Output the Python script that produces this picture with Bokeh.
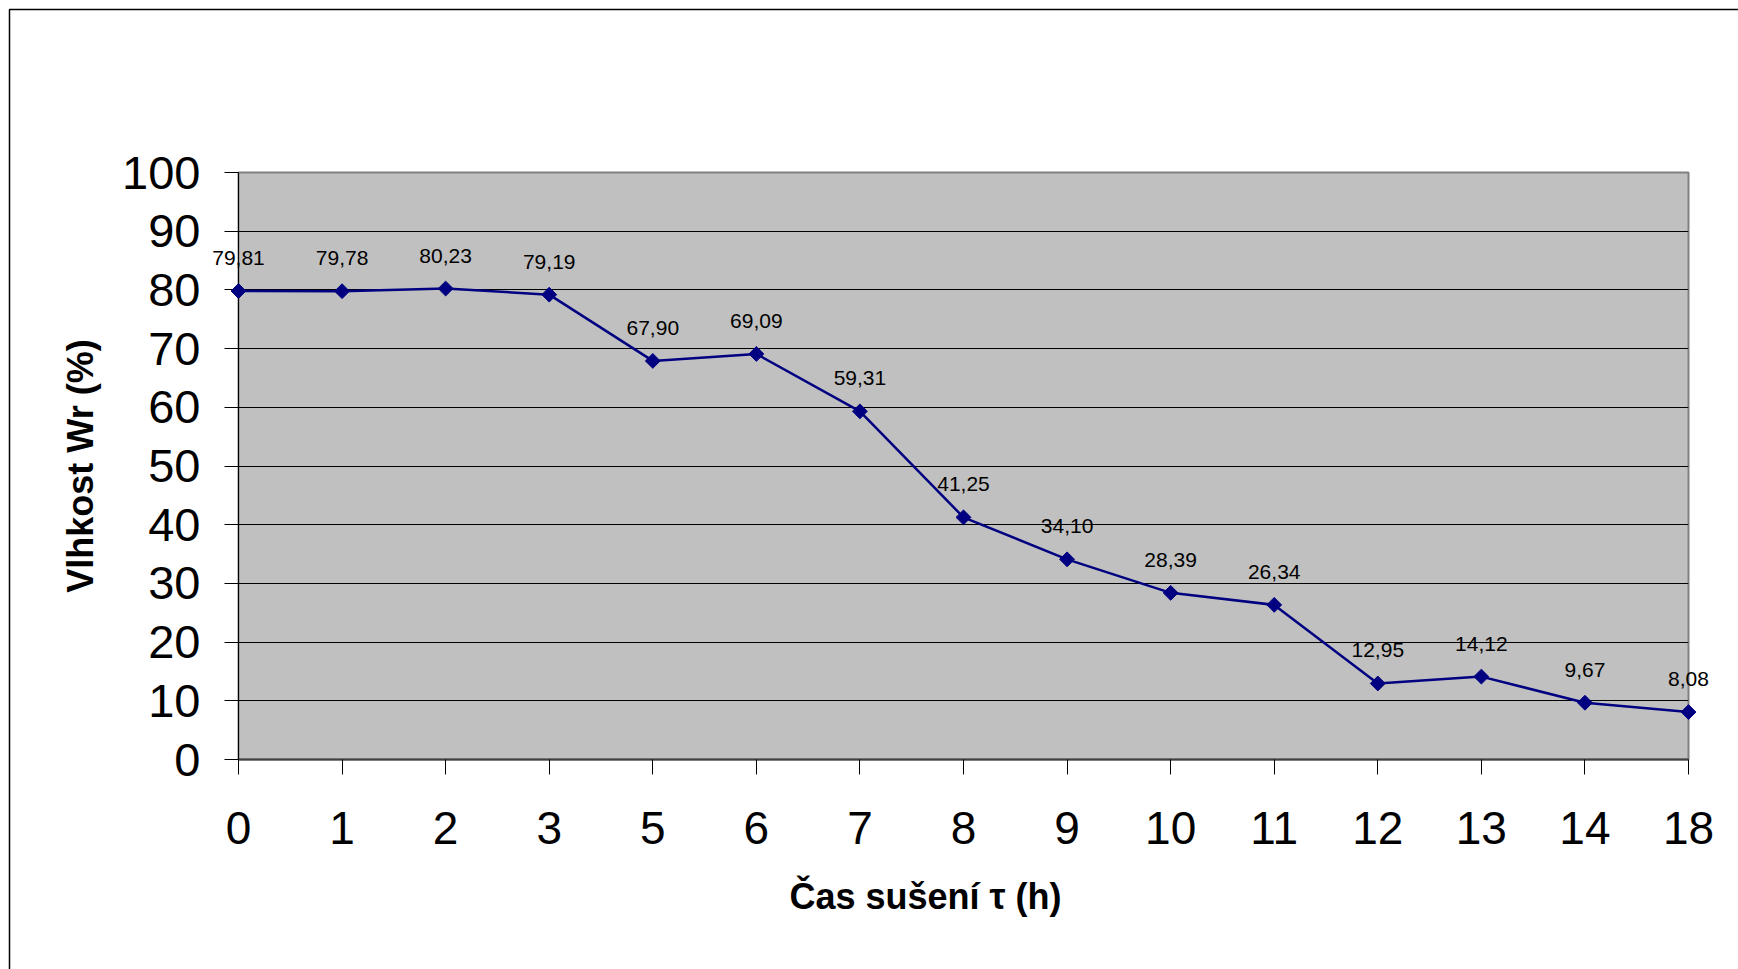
from bokeh.plotting import figure
from bokeh.models import ColumnDataSource, FixedTicker, Range1d
from bokeh.core.properties import value
from bokeh.embed import file_html
from bokeh.resources import INLINE
import numpy as np

# Drying time categories (h) and measured moisture content Wr (%)
time_labels = ["0", "1", "2", "3", "5", "6", "7", "8", "9", "10", "11", "12", "13", "14", "18"]
moisture = [79.81, 79.78, 80.23, 79.19, 67.90, 69.09, 59.31, 41.25, 34.10, 28.39, 26.34, 12.95, 14.12, 9.67, 8.08]
y_ticks = list(range(0, 101, 10))

idx = list(range(len(time_labels)))
value_text = [f"{v:.2f}".replace(".", ",") for v in moisture]
src = ColumnDataSource(dict(x=idx, y=moisture, txt=value_text))

FONT = "Liberation Sans"

# page / frame geometry in pixels
W, H = 1738, 969
FL, FR, FT, FB = 238, 1688, 172, 759
X0, X1 = 0, len(idx) - 1
Y0, Y1 = 0, 100


def px_to_x(px):
    return X0 + (px - FL) / (FR - FL) * (X1 - X0)


def px_to_y(py):
    return Y0 + (FB - py) / (FB - FT) * (Y1 - Y0)


p = figure(width=W, height=H, output_backend="svg", toolbar_location=None,
           x_range=Range1d(X0, X1), y_range=Range1d(Y0, Y1),
           min_border_left=FL, min_border_right=W - FR, min_border_top=FT, min_border_bottom=H - FB)

p.background_fill_color = "#C0C0C0"
p.border_fill_color = "white"
p.outline_line_color = "#808080"
p.outline_line_width = 2

# grid
p.xgrid.grid_line_color = None
p.ygrid.grid_line_color = "#000000"
p.ygrid.grid_line_width = 1
p.ygrid.ticker = FixedTicker(ticks=y_ticks)

# y axis
p.yaxis.ticker = FixedTicker(ticks=y_ticks)
p.yaxis.major_tick_out = 14
p.yaxis.major_tick_in = 0
p.yaxis.minor_tick_line_color = None
p.yaxis.axis_line_color = "black"
p.yaxis.major_tick_line_color = "black"
p.yaxis.major_label_text_font = FONT
p.yaxis.major_label_text_font_size = "47px"
p.yaxis.major_label_text_color = "black"
p.yaxis.major_label_standoff = 24
p.yaxis.axis_label = "Vlhkost Wr (%)"
p.yaxis.axis_label_text_font = FONT
p.yaxis.axis_label_text_font_size = "36px"
p.yaxis.axis_label_text_font_style = "bold"
p.yaxis.axis_label_text_color = "black"
p.yaxis.axis_label_standoff = 18

# x axis (categories placed on an index scale)
p.xaxis.ticker = FixedTicker(ticks=idx)
p.xaxis.major_label_overrides = {i: t for i, t in zip(idx, time_labels)}
p.xaxis.major_tick_out = 15
p.xaxis.major_tick_in = 0
p.xaxis.minor_tick_line_color = None
p.xaxis.axis_line_color = "#404040"
p.xaxis.axis_line_width = 2
p.xaxis.major_tick_line_color = "black"
p.xaxis.major_label_text_font = FONT
p.xaxis.major_label_text_font_size = "46px"
p.xaxis.major_label_text_color = "black"
p.xaxis.major_label_standoff = 37

# x axis title
xt = p.text(x=[px_to_x(925)], y=[px_to_y(896)], text=["Čas sušení τ (h)"],
            text_font=value(FONT), text_font_size="36px", text_font_style="bold",
            text_color="black", text_align="center", text_baseline="middle")
xt.level = "overlay"

# series
ln = p.line("x", "y", source=src, line_color="#000080", line_width=2.5)
ln.level = "overlay"
mk = p.scatter("x", "y", source=src, marker="square", angle=np.pi / 4, size=10.5,
               fill_color="#000080", line_color="#000080", line_width=1)
mk.level = "overlay"

# value labels above each point
vl = p.text("x", "y", text="txt", source=src, y_offset=-33, text_align="center",
            text_baseline="middle", text_font=value(FONT), text_font_size="21px",
            text_color="black")
vl.level = "overlay"

# chart area border (top and left edges, running off the page)
bx = [px_to_x(9), px_to_x(9), px_to_x(W + 50)]
by = [px_to_y(H + 50), px_to_y(9), px_to_y(9)]
border = p.line(bx, by, line_color="black", line_width=1.5)
border.level = "overlay"

open("out.html", "w").write(file_html(p, INLINE))
